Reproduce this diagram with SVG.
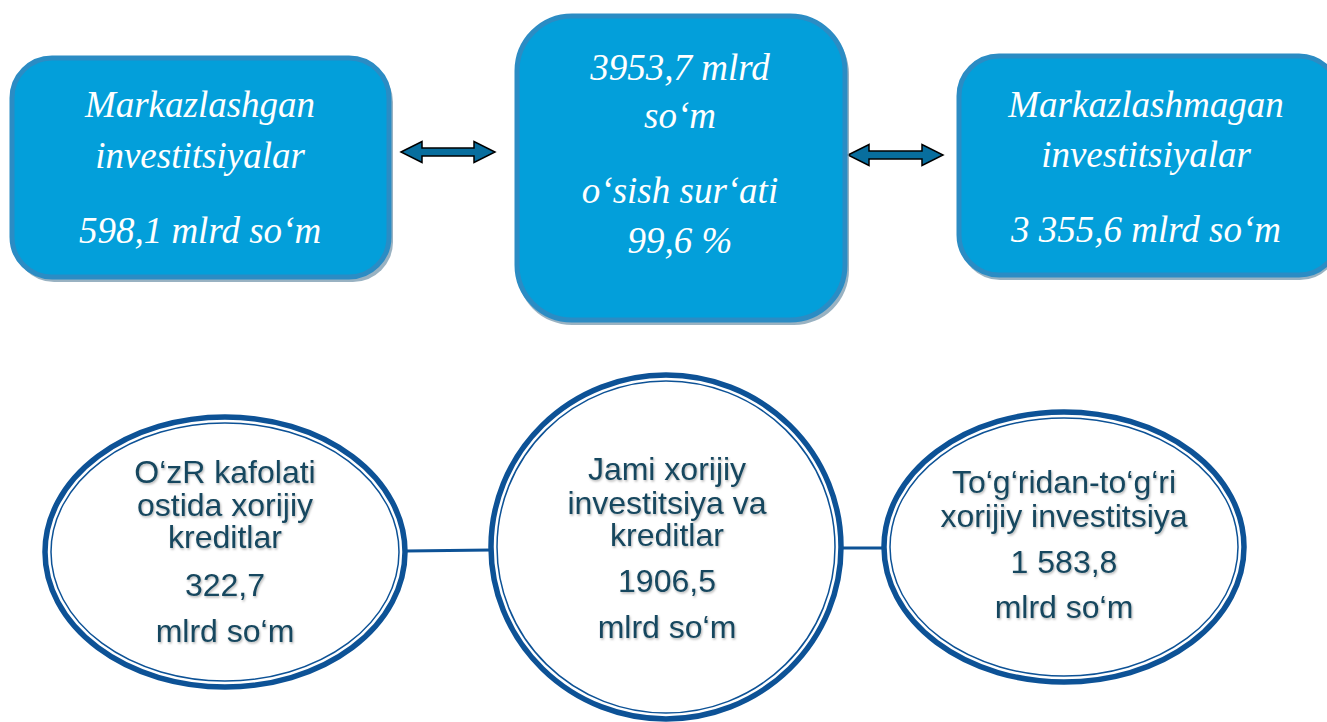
<svg xmlns="http://www.w3.org/2000/svg" width="1327" height="722" viewBox="0 0 1327 722">
<defs>
<style>
.box{fill:#039FDA;stroke:#2B8CC4;stroke-width:5}
.shadow{fill:#7F9FB3;opacity:0.8}
.bt{font-family:"Liberation Serif","Times New Roman",serif;font-style:italic;font-size:37px;fill:#FFFFFF;text-anchor:middle}
.ring{fill:#FFFFFF;stroke:#0D5296;stroke-width:5.5}
.ring2{fill:none;stroke:#0D5296;stroke-width:1.5}
.et{font-family:"Liberation Sans",Arial,sans-serif;font-size:32px;fill:#17475E;text-anchor:middle}
.arrow{fill:#086E9E;stroke:#000000;stroke-width:1.5;stroke-linejoin:miter}
.link{stroke:#0D5296;stroke-width:3;fill:none}
</style>
<filter id="ts" x="-10%" y="-20%" width="120%" height="150%">
<feDropShadow dx="1" dy="1.5" stdDeviation="1.2" flood-color="#000000" flood-opacity="0.3"/>
</filter>
</defs>
<rect width="1327" height="722" fill="#FFFFFF"/>

<g id="connectors">
<path class="arrow" d="M401,152 L422,141.5 L422,148 L474,148 L474,141.5 L495,152 L474,162.5 L474,156 L422,156 L422,162.5 Z"/>
<path class="arrow" d="M848,155 L869,144.5 L869,151 L922,151 L922,144.5 L943,155 L922,165.5 L922,159 L869,159 L869,165.5 Z"/>
<line class="link" x1="406" y1="551" x2="491" y2="550"/>
<line class="link" x1="842" y1="548" x2="883" y2="548"/>
</g>

<g id="box-left">
<rect class="shadow" x="14" y="62" width="379" height="220" rx="40"/>
<rect class="box" x="12" y="58" width="377" height="219" rx="40"/>
<text class="bt" x="200" y="117">Markazlashgan</text>
<text class="bt" x="200" y="168">investitsiyalar</text>
<text class="bt" x="200" y="243">598,1 mlrd so‘m</text>
</g>

<g id="box-center">
<rect class="shadow" x="517" y="19" width="332" height="306" rx="55"/>
<rect class="box" x="517" y="16" width="328" height="304" rx="55"/>
<text class="bt" x="680" y="80">3953,7 mlrd</text>
<text class="bt" x="680" y="128">so‘m</text>
<text class="bt" x="680" y="203">o‘sish sur‘ati</text>
<text class="bt" x="680" y="253">99,6 %</text>
</g>

<g id="box-right">
<rect class="shadow" x="960" y="60" width="380" height="220" rx="40"/>
<rect class="box" x="959" y="56" width="380" height="219" rx="40"/>
<text class="bt" x="1146" y="117">Markazlashmagan</text>
<text class="bt" x="1146" y="167">investitsiyalar</text>
<text class="bt" x="1146" y="242">3 355,6 mlrd so‘m</text>
</g>

<g id="ellipse-left">
<ellipse class="ring" cx="225" cy="552" rx="180" ry="135"/>
<ellipse class="ring2" cx="225" cy="552" rx="174" ry="129"/>
<g filter="url(#ts)">
<text class="et" x="225" y="483">O‘zR kafolati</text>
<text class="et" x="225" y="516">ostida xorijiy</text>
<text class="et" x="225" y="548">kreditlar</text>
<text class="et" x="225" y="596">322,7</text>
<text class="et" x="225" y="642">mlrd so‘m</text>
</g>
</g>

<g id="ellipse-center">
<ellipse class="ring" cx="666" cy="547" rx="175" ry="172"/>
<ellipse class="ring2" cx="666" cy="547" rx="169" ry="166"/>
<g filter="url(#ts)">
<text class="et" x="667" y="480">Jami xorijiy</text>
<text class="et" x="667" y="514">investitsiya va</text>
<text class="et" x="667" y="546">kreditlar</text>
<text class="et" x="667" y="592">1906,5</text>
<text class="et" x="667" y="638">mlrd so‘m</text>
</g>
</g>

<g id="ellipse-right">
<ellipse class="ring" cx="1064" cy="547" rx="180" ry="135"/>
<ellipse class="ring2" cx="1064" cy="547" rx="174" ry="129"/>
<g filter="url(#ts)">
<text class="et" x="1064" y="493">To‘g‘ridan-to‘g‘ri</text>
<text class="et" x="1064" y="527">xorijiy investitsiya</text>
<text class="et" x="1064" y="573">1 583,8</text>
<text class="et" x="1064" y="618">mlrd so‘m</text>
</g>
</g>
</svg>
